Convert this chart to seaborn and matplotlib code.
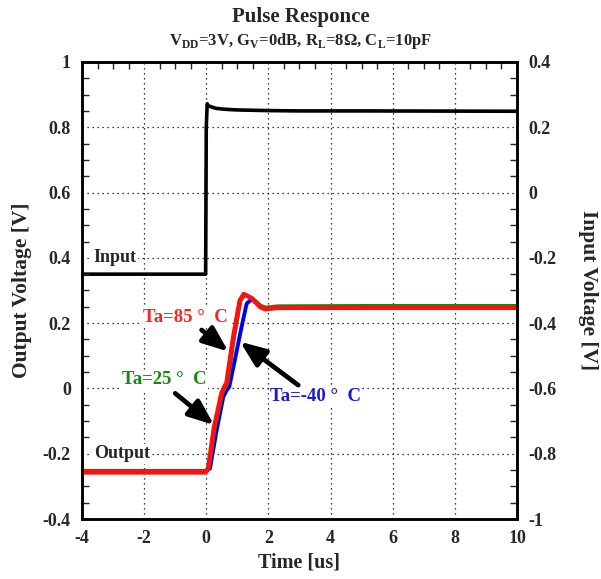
import numpy as np
import pandas as pd
import seaborn as sns
import matplotlib.pyplot as plt
from matplotlib.ticker import MultipleLocator

# Input pulse (right axis, V)
t_in = [-4.0, -0.02, 0.0, 0.03, 0.06, 0.3, 0.6, 1.0, 2.0, 3.0, 5.0, 10.0]
v_in = [-0.25, -0.25, 0.20, 0.272, 0.266, 0.258, 0.255, 0.253, 0.251, 0.250, 0.250, 0.249]

# Output responses (left axis, V)
t_85 = [-4.0, -0.02, 0.06, 0.25, 0.49, 0.58, 0.65, 0.87, 1.08, 1.21, 1.46, 1.73, 1.89, 2.3, 5.0, 10.0]
v_85 = [-0.257, -0.257, -0.245, -0.12, -0.015, 0.005, 0.016, 0.158, 0.27, 0.289, 0.276, 0.25, 0.243, 0.247, 0.247, 0.247]

t_25 = [-4.0, -0.02, 0.08, 0.28, 0.52, 0.62, 0.69, 0.9, 1.11, 1.25, 1.5, 1.76, 1.92, 2.3, 5.0, 10.0]
v_25 = [-0.252, -0.252, -0.245, -0.12, -0.015, 0.005, 0.016, 0.158, 0.27, 0.287, 0.275, 0.253, 0.248, 0.252, 0.253, 0.253]

t_m40 = [-4.0, -0.02, 0.12, 0.33, 0.55, 0.66, 0.74, 0.92, 1.14, 1.3, 1.46, 1.78, 1.94, 2.3, 5.0, 10.0]
v_m40 = [-0.255, -0.255, -0.245, -0.13, -0.025, -0.005, 0.005, 0.087, 0.19, 0.26, 0.273, 0.25, 0.246, 0.248, 0.248, 0.248]

sns.set_style("white")
plt.rcParams['font.family'] = ['Liberation Serif', 'DejaVu Serif']
plt.rcParams['font.weight'] = 'bold'
plt.rcParams['mathtext.fontset'] = 'custom'
plt.rcParams['mathtext.rm'] = 'Liberation Serif:bold'
plt.rcParams['mathtext.bf'] = 'Liberation Serif:bold'

fig = plt.figure(figsize=(6.01, 5.79), dpi=100)
ax = fig.add_axes([0.1364, 0.1036, 0.7238, 0.7894])
ax2 = ax.twinx()

df_out = pd.concat([
    pd.DataFrame({'t': t_m40, 'v': v_m40, 'temp': '-40'}),
    pd.DataFrame({'t': t_25, 'v': v_25, 'temp': '25'}),
    pd.DataFrame({'t': t_85, 'v': v_85, 'temp': '85'}),
])
sns.lineplot(data=df_out[df_out.temp == '-40'], x='t', y='v', ax=ax, color='#0000ee', lw=2.8, legend=False)
sns.lineplot(data=df_out[df_out.temp == '25'], x='t', y='v', ax=ax, color='#0a8a0a', lw=2.6, legend=False)
sns.lineplot(data=df_out[df_out.temp == '85'], x='t', y='v', ax=ax, color='#ff1010', lw=3.3, legend=False)

df_in = pd.DataFrame({'t': t_in, 'v': v_in})
sns.lineplot(data=df_in, x='t', y='v', ax=ax2, color='black', lw=2.6, legend=False)

# axes setup
ax.set_xlim(-4, 10)
ax.set_ylim(-0.4, 1)
ax2.set_ylim(-1, 0.4)
ax.xaxis.set_major_locator(MultipleLocator(2))
ax.xaxis.set_minor_locator(MultipleLocator(0.5))
ax.yaxis.set_major_locator(MultipleLocator(0.2))
ax.yaxis.set_minor_locator(MultipleLocator(0.05))
ax2.yaxis.set_major_locator(MultipleLocator(0.2))
ax2.yaxis.set_minor_locator(MultipleLocator(0.05))
ax.grid(True, which='major', color='black', linestyle=(0, (1, 3)), lw=0.9)
ax.tick_params(axis='both', which='both', direction='in', top=True, labelsize=13)
ax.tick_params(which='major', length=0, pad=8)
ax.tick_params(which='minor', length=5, width=1)
ax2.tick_params(which='major', length=0, pad=8, labelsize=13)
ax2.tick_params(which='minor', direction='in', length=5, width=1)

def fmt(v, pos):
    s = ('%.1f' % v).rstrip('0').rstrip('.')
    if s in ('-0', ''):
        s = '0'
    return s
ax.yaxis.set_major_formatter(fmt)
ax2.yaxis.set_major_formatter(fmt)
ax.xaxis.set_major_formatter(fmt)

for a in (ax, ax2):
    for sp in a.spines.values():
        sp.set_linewidth(1.8)
        sp.set_color('black')
    for lab in a.get_xticklabels() + a.get_yticklabels():
        lab.set_fontweight('bold')

ax.set_xlabel('Time [us]', fontsize=14.5, fontweight='bold', labelpad=4)
ax.set_ylabel('Output Voltage [V]', fontsize=15.5, fontweight='bold', labelpad=8)
ax2.set_ylabel('Input Voltage [V]', fontsize=15.5, fontweight='bold', rotation=270, labelpad=30)

fig.text(0.5, 0.970, 'Pulse Responce', ha='center', va='center', fontsize=15, fontweight='bold')
fig.text(0.5, 0.930, r'V$_{\mathrm{DD}}$=3V, G$_{\mathrm{V}}$=0dB, R$_{\mathrm{L}}$=8$\Omega$, C$_{\mathrm{L}}$=10pF',
         ha='center', va='center', fontsize=12, fontweight='bold')

# labels
box = dict(facecolor='white', edgecolor='none', pad=1)
ax.text(-3.62, 0.4, 'Input', fontsize=13, fontweight='bold', va='center', ha='left', bbox=box)
ax.text(-3.62, -0.2, 'Output', fontsize=13, fontweight='bold', va='center', ha='left', bbox=box)
ax.text(-2.05, 0.216, 'Ta=85 °  C', color='#ff2020', fontsize=13.5, fontweight='bold', va='center', ha='left', bbox=box)
ax.text(-2.7, 0.026, 'Ta=25 °  C', color='#128a12', fontsize=13.5, fontweight='bold', va='center', ha='left', bbox=box)
ax.text(2.05, -0.026, 'Ta=-40 °  C', color='#1a1acc', fontsize=13.5, fontweight='bold', va='center', ha='left', bbox=box)

arrow = dict(arrowstyle='-|>,head_length=0.7,head_width=0.28', color='black', lw=3.4, mutation_scale=22,
             shrinkA=0, shrinkB=0)
ax.annotate('', xy=(0.71, 0.113), xytext=(-0.15, 0.179), arrowprops=arrow)
ax.annotate('', xy=(0.25, -0.112), xytext=(-1.0, -0.015), arrowprops=arrow)
ax.annotate('', xy=(1.09, 0.143), xytext=(2.96, 0.01), arrowprops=arrow)

ax2.set_zorder(ax.zorder - 1)
ax.patch.set_visible(False)
ax2.patch.set_visible(True)

fig.savefig('out.png', dpi=100)
